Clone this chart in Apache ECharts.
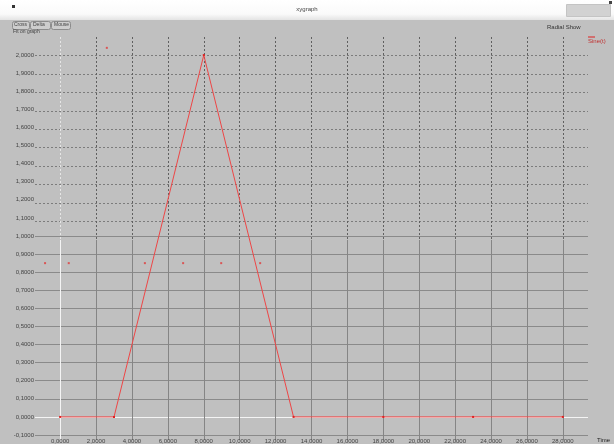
<!DOCTYPE html>
<html>
<head>
<meta charset="utf-8">
<title>xygraph</title>
<script src="https://cdn.jsdelivr.net/npm/echarts@6/dist/echarts.min.js"></script>
<style>
  html, body { margin: 0; padding: 0; background: #c0c0c0; }
  #graph { width: 614px; height: 444px; }
</style>
</head>
<body>
<div id="graph"></div>
<script>
// xygraph trace, Sine(t) against Time

var timeValues = [0, 3, 8, 13, 18, 23, 28];
var signalValues = [0, 0, 2, 0, 0, 0, 0];

// loose marker dots left on the plot
var markerTime = [-0.84, 0.48, 4.72, 6.85, 8.97, 11.14, 2.6];
var markerValue = [0.85, 0.85, 0.85, 0.85, 0.85, 0.85, 2.04];

var fmt = function (v) { return v.toFixed(4).replace('.', ','); };

// split line colours: first line at min, white line at zero
var ySolid = [];
for (var i = 0; i <= 22; i++) {
    ySolid.push(i === 1 ? '#f4f4f4' : (i <= 11 ? '#8a8a8a' : 'rgba(0,0,0,0)'));
}
var yDash = ['rgba(0,0,0,0)'];
for (var j = 0; j < 10; j++) yDash.push('#7c7c7c');
yDash.push('rgba(0,0,0,0)');

var xSolid = ['rgba(0,0,0,0)', '#f4f4f4'];
var xDash = ['rgba(0,0,0,0)', '#e6e6e6'];
for (var k = 0; k < 14; k++) { xSolid.push('#858585'); xDash.push('#606060'); }
xSolid.push('rgba(0,0,0,0)');
xDash.push('rgba(0,0,0,0)');

var font = 'Liberation Sans';

var chart = echarts.init(document.getElementById('graph'));
chart.setOption({
    backgroundColor: '#c0c0c0',
    animation: false,
    textStyle: { fontFamily: font },
    grid: [
        { left: 35, right: 26, top: 37, bottom: 4 },
        { left: 35, right: 26, top: 37, bottom: 204 },
        { left: 35, right: 26, top: 240, bottom: 4 }
    ],
    xAxis: [
        {
            type: 'value', gridIndex: 0, min: -1.4, max: 29.4, splitNumber: 15,
            axisLine: { show: false }, axisTick: { show: false },
            axisLabel: { fontSize: 6, color: '#444', margin: 3, formatter: fmt, showMinLabel: false, showMaxLabel: false },
            splitLine: { show: false }
        },
        {
            type: 'value', gridIndex: 1, min: -1.4, max: 29.4, splitNumber: 15,
            axisLine: { show: false }, axisTick: { show: false }, axisLabel: { show: false },
            splitLine: { show: true, lineStyle: { color: xDash, type: [2, 2], width: 1 } }
        },
        {
            type: 'value', gridIndex: 2, min: -1.4, max: 29.4, splitNumber: 15,
            axisLine: { show: false }, axisTick: { show: false }, axisLabel: { show: false },
            splitLine: { show: true, lineStyle: { color: xSolid, width: 1 } }
        }
    ],
    yAxis: [
        {
            type: 'value', gridIndex: 0, min: -0.1, max: 2.1, interval: 0.1,
            axisLine: { show: false }, axisTick: { show: false },
            axisLabel: { fontSize: 6, color: '#444', margin: 1, formatter: fmt, showMaxLabel: false },
            splitLine: { show: true, lineStyle: { color: ySolid, width: 1 } }
        },
        {
            type: 'value', gridIndex: 1, min: 1.0, max: 2.1, interval: 0.1,
            axisLine: { show: false }, axisTick: { show: false }, axisLabel: { show: false },
            splitLine: { show: true, lineStyle: { color: yDash, type: [2, 2], width: 1 } }
        },
        {
            type: 'value', gridIndex: 2, min: -0.1, max: 1.0, interval: 0.1,
            axisLine: { show: false }, axisTick: { show: false }, axisLabel: { show: false },
            splitLine: { show: false }
        }
    ],
    series: [
        {
            name: 'Sine(t)',
            type: 'line',
            xAxisIndex: 0, yAxisIndex: 0,
            data: timeValues.map(function (t, n) { return [t, signalValues[n]]; }),
            symbol: 'rect', symbolSize: 2, showSymbol: true,
            lineStyle: { color: '#ee4646', width: 1 },
            itemStyle: { color: '#e02020' },
            z: 5
        },
        {
            name: 'markers',
            type: 'scatter',
            xAxisIndex: 0, yAxisIndex: 0,
            data: markerTime.map(function (t, n) { return [t, markerValue[n]]; }),
            symbol: 'rect', symbolSize: 2,
            itemStyle: { color: '#e03a3a' },
            z: 5
        }
    ],
    graphic: [
        // window title bar
        {
            type: 'rect', left: 0, top: 0, z: 10,
            shape: { width: 614, height: 20 },
            style: {
                fill: new echarts.graphic.LinearGradient(0, 0, 0, 1, [
                    { offset: 0, color: '#ffffff' }, { offset: 0.7, color: '#fafafa' }, { offset: 1, color: '#e4e4e4' }
                ])
            }
        },
        { type: 'rect', left: 12, top: 5, z: 11, shape: { width: 3, height: 3 }, style: { fill: '#333' } },
        { type: 'text', left: 'center', top: 6, z: 11, style: { text: 'xygraph', fontSize: 6, fill: '#444', fontFamily: font } },
        { type: 'rect', left: 566, top: 4, z: 11, shape: { width: 44, height: 12 }, style: { fill: '#d2d2d2', stroke: '#c4c4c4' } },
        { type: 'rect', left: 609, top: 1, z: 12, shape: { width: 3, height: 3 }, style: { fill: '#444' } },
        // toolbar buttons
        { type: 'rect', left: 12, top: 21, z: 11, shape: { width: 17, height: 8, r: 2 }, style: { fill: '#cdcdcd', stroke: '#8c8c8c' } },
        { type: 'rect', left: 30, top: 21, z: 11, shape: { width: 20, height: 8, r: 2 }, style: { fill: '#cdcdcd', stroke: '#8c8c8c' } },
        { type: 'rect', left: 51, top: 21, z: 11, shape: { width: 19, height: 8, r: 2 }, style: { fill: '#cdcdcd', stroke: '#8c8c8c' } },
        { type: 'text', left: 14, top: 22, z: 12, style: { text: 'Cross', fontSize: 5, fill: '#444', fontFamily: font } },
        { type: 'text', left: 33, top: 22, z: 12, style: { text: 'Delta', fontSize: 5, fill: '#444', fontFamily: font } },
        { type: 'text', left: 54, top: 22, z: 12, style: { text: 'Mouse', fontSize: 5, fill: '#444', fontFamily: font } },
        { type: 'text', left: 13, top: 29, z: 11, style: { text: 'Fit on graph', fontSize: 5, fill: '#444', fontFamily: font } },
        // right hand labels
        { type: 'text', left: 547, top: 24, z: 11, style: { text: 'Radial Show', fontSize: 6, fill: '#333', fontFamily: font } },
        { type: 'line', z: 11, shape: { x1: 588, y1: 37, x2: 595, y2: 37 }, style: { stroke: '#e02020', lineWidth: 1 } },
        { type: 'text', left: 588, top: 38, z: 11, style: { text: 'Sine(t)', fontSize: 6, fill: '#c03030', fontFamily: font } },
        { type: 'text', left: 597, top: 437, z: 11, style: { text: 'Time', fontSize: 6, fill: '#222', fontFamily: font } }
    ]
});
</script>
</body>
</html>
